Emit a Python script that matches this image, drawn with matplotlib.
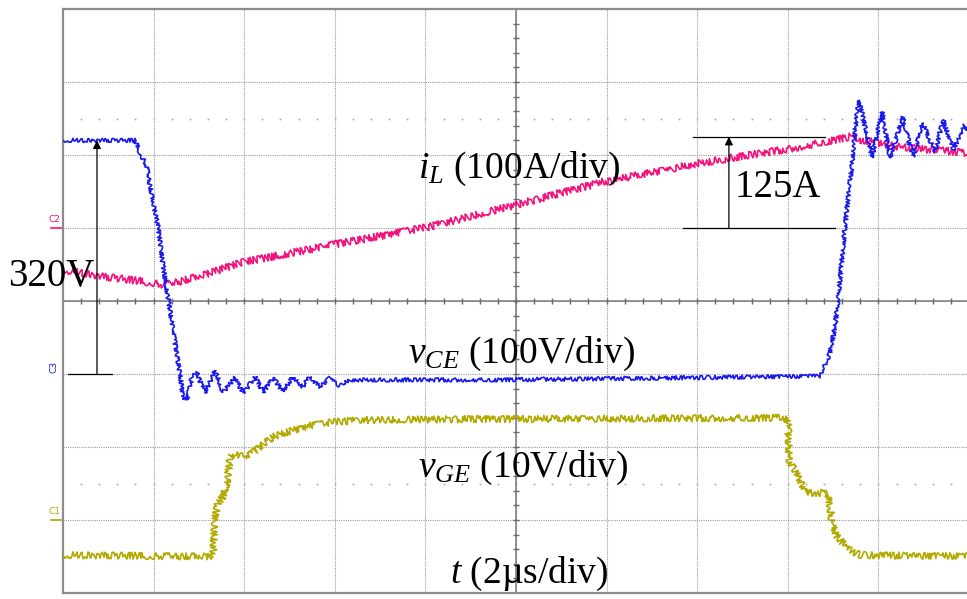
import matplotlib
matplotlib.use('Agg')
import matplotlib.pyplot as plt
import numpy as np

# --- scope traces (time in us, values in physical units) ---
t_vce = [0.0, 1.59, 1.70, 1.85, 1.99, 2.10, 2.19, 2.34, 2.45, 2.58, 2.65, 2.74, 2.85, 2.96,
         3.13, 3.36, 3.53, 3.80, 3.97, 4.24, 4.42, 4.64, 4.86, 5.06, 5.28, 5.45, 5.67, 5.89,
         6.11, 6.34, 9.65, 16.71, 16.78, 16.93, 17.04, 17.11, 17.22, 17.33, 17.42, 17.48,
         17.57, 17.66, 17.86, 18.08, 18.26, 18.54, 18.76, 18.98, 19.25, 19.43, 19.65, 19.91, 20.13]
vce = [320, 320, 304, 284, 234, 201, 156, 97, 51, 1, -32, -36, -4, 1,
       -26, 5, -25, -5, -26, -4, -25, -5, -25, -4, -18, -4, -18, -5,
       -16, -8, -8, -3, 5, 29, 64, 101, 174, 242, 289, 334,
       375, 352, 296, 359, 296, 352, 297, 344, 304, 348, 307, 341, 314]

t_il = [0.0, 0.82, 1.99, 2.25, 3.02, 3.97, 5.96, 8.04, 10.02, 11.85, 14.06, 16.27, 17.37,
        17.59, 18.48, 19.96, 20.2]
il = [-57, -66, -75, -78, -66, -47, -23, 1, 32, 62, 89, 111, 125,
      121, 111, 103, 102]

t_vge = [0.0, 3.31, 3.36, 3.42, 3.53, 3.62, 3.69, 3.75, 4.06, 4.64, 5.08, 5.52, 5.96, 6.62,
         8.54, 16.0, 16.03, 16.11, 16.27, 16.38, 16.89, 16.98, 17.09, 17.31, 17.59, 20.2]
vge = [-4.8, -5.0, 0.4, 2.3, 3.2, 5.1, 8.6, 9.0, 8.6, 11.4, 12.3, 13.0, 13.4, 13.7,
       13.8, 14.0, 8.2, 7.3, 5.5, 3.7, 3.7, -0.4, -2.3, -3.8, -4.8, -5.0]

VCE_STEP = 320   # V
IL_PEAK = 125    # A

# channel settings: volts (amps) per division and ground position in divisions
VCE_SCALE, VCE_OFS = 100.0, -1.0
IL_SCALE, IL_OFS = 100.0, 1.0
VGE_SCALE, VGE_OFS = 10.0, -3.0

BLUE = '#1a1aee'
PINK = '#f2147c'
OLIVE = '#b3aa00'

plt.rcParams['font.family'] = 'Liberation Serif'
plt.rcParams['mathtext.fontset'] = 'custom'
plt.rcParams['mathtext.rm'] = 'Liberation Serif'
plt.rcParams['mathtext.it'] = 'Liberation Serif:italic'

fig = plt.figure(figsize=(9.67, 5.99), dpi=100)
ax = fig.add_axes([63/967, 6/599, 906/967, 584/599])
ax.set_xlim(0, 20)
ax.set_ylim(-4, 4)
ax.set_xticks([]); ax.set_yticks([])
for s in ax.spines.values():
    s.set_color('#8c8c8c'); s.set_linewidth(1.6)

# graticule
for k in range(1, 10):
    ax.axvline(2*k, color='#9a9a9a', lw=0.8, ls=(0, (1, 1)), zorder=1)
for k in range(-3, 4):
    ax.axhline(k, color='#9a9a9a', lw=0.8, ls=(0, (1, 1)), zorder=1)
ax.axvline(10, color='#7a7a7a', lw=1.1, zorder=1.5)
ax.axhline(0, color='#7a7a7a', lw=1.1, zorder=1.5)
xt = np.arange(0.4, 20, 0.4)
ax.vlines(xt, -0.045, 0.045, color='#6a6a6a', lw=1.0, zorder=1.5)
yt = np.arange(-3.8, 4, 0.2)
ax.hlines(yt, 9.93, 10.07, color='#6a6a6a', lw=1.0, zorder=1.5)
for yd in (2.5, -2.5):
    ax.plot(xt, np.full_like(xt, yd), ls='none', marker='s', ms=1.2, color='#aaaaaa',
            mew=0, zorder=1)

# traces, drawn with a jittery sketch style to look like sampled scope noise
scr = lambda v, sc, of: np.array(v) / sc + of
lines = []
lines += ax.plot(t_il, scr(il, IL_SCALE, IL_OFS), color=PINK, lw=1.2, zorder=3)
lines += ax.plot(t_vge, scr(vge, VGE_SCALE, VGE_OFS), color=OLIVE, lw=1.2, zorder=3)
lines += ax.plot(t_vce, scr(vce, VCE_SCALE, VCE_OFS), color=BLUE, lw=1.2, zorder=4)
for ln, amp in zip(lines, (3.6, 3.4, 2.0)):
    ln.set_sketch_params(scale=amp, length=1.2, randomness=12)

# channel markers
ax.text(-0.18, IL_OFS + 0.12, 'C2', color=PINK, fontsize=6.5, family='DejaVu Sans',
        ha='center', va='center', clip_on=False)
ax.plot([-0.26, -0.02], [IL_OFS, IL_OFS], color=PINK, lw=1.2, clip_on=False)
ax.text(-0.2, VCE_OFS + 0.1, 'C3', color=BLUE, fontsize=6.5, family='DejaVu Sans',
        rotation=90, ha='center', va='center', clip_on=False)
ax.plot([-0.26, -0.02], [VGE_OFS, VGE_OFS], color=OLIVE, lw=1.2, clip_on=False)
ax.text(-0.18, VGE_OFS + 0.12, 'C1', color=OLIVE, fontsize=6.5, family='DejaVu Sans',
        ha='center', va='center', clip_on=False)

# 320V step marker
y0 = VCE_OFS
y1 = VCE_OFS + VCE_STEP / VCE_SCALE
ax.plot([0.11, 1.08], [y0, y0], color='k', lw=0.9, zorder=5)
ax.annotate('', xy=(0.75, y1), xytext=(0.75, y0),
            arrowprops=dict(arrowstyle='-|>', color='k', lw=0.9, mutation_scale=12,
                            shrinkA=0, shrinkB=0), zorder=5)
ax.text(-1.21, 0.205, '%dV' % VCE_STEP, fontsize=28, ha='left', va='baseline',
        clip_on=False, zorder=6)

# 125A peak marker
b0 = IL_OFS
b1 = IL_OFS + IL_PEAK / IL_SCALE
ax.plot([13.91, 16.82], [b1, b1], color='k', lw=0.9, zorder=5)
ax.plot([13.69, 17.04], [b0, b0], color='k', lw=0.9, zorder=5)
ax.annotate('', xy=(14.70, b1), xytext=(14.70, b0),
            arrowprops=dict(arrowstyle='-|>', color='k', lw=0.9, mutation_scale=12,
                            shrinkA=0, shrinkB=0), zorder=5)
ax.text(14.83, 1.425, '%dA' % IL_PEAK, fontsize=28, ha='left', va='baseline', zorder=6)

# trace labels
ax.text(7.84, 1.685, r'$i_L$ (100A/div)', fontsize=27, ha='left', va='baseline', zorder=6)
ax.text(7.62, -0.849, r'$v_{CE}$ (100V/div)', fontsize=27, ha='left', va='baseline', zorder=6)
ax.text(7.84, -2.41, r'$v_{GE}$ (10V/div)', fontsize=27, ha='left', va='baseline', zorder=6)
ax.text(8.54, -3.86, r'$t$ (2µs/div)', fontsize=27, ha='left', va='baseline', zorder=6)

fig.savefig('out.png', dpi=100)
